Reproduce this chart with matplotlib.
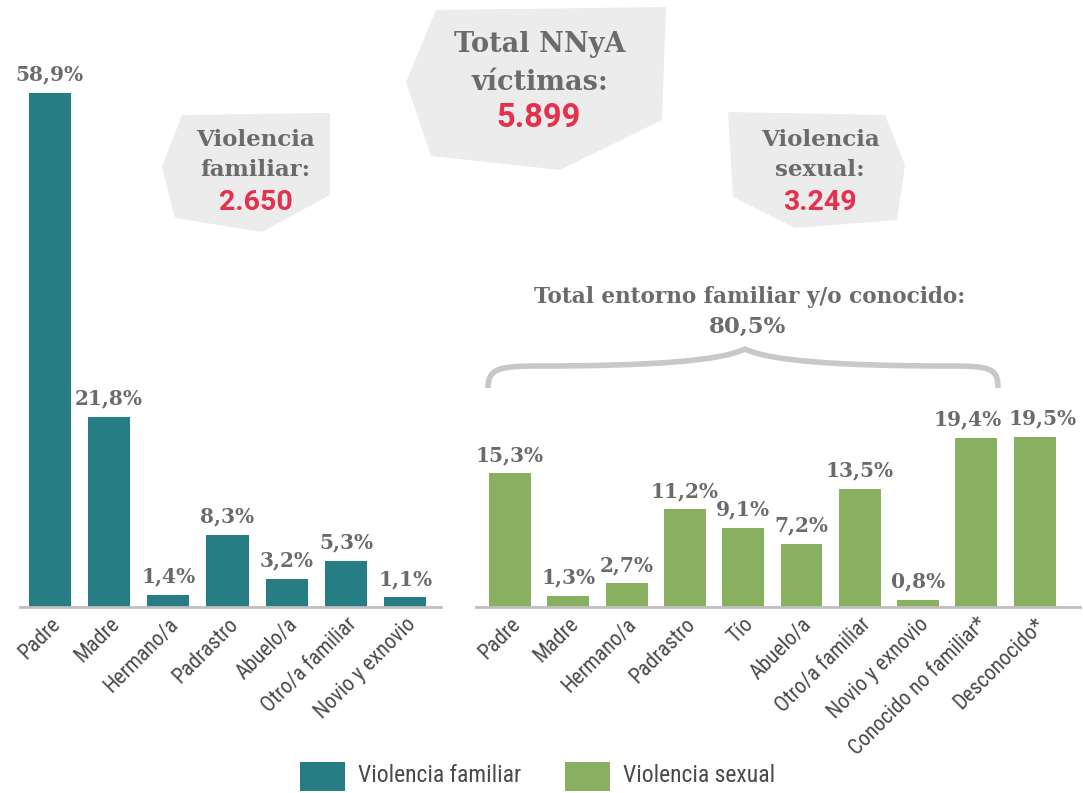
import matplotlib
matplotlib.use("Agg")
import matplotlib.pyplot as plt
from matplotlib import font_manager
from matplotlib.patches import Polygon, PathPatch, Rectangle
from matplotlib.path import Path

# datos
cat_familiar = ['Padre', 'Madre', 'Hermano/a', 'Padrastro', 'Abuelo/a', 'Otro/a familiar', 'Novio y exnovio']
val_familiar = [58.9, 21.8, 1.4, 8.3, 3.2, 5.3, 1.1]
cat_sexual = ['Padre', 'Madre', 'Hermano/a', 'Padrastro', 'Tío', 'Abuelo/a', 'Otro/a familiar',
              'Novio y exnovio', 'Conocido no familiar*', 'Desconocido*']
val_sexual = [15.3, 1.3, 2.7, 11.2, 9.1, 7.2, 13.5, 0.8, 19.4, 19.5]
total_nnya = '5.899'
total_familiar = '2.650'
total_sexual = '3.249'
total_entorno = '80,5%'

W, H = 1083, 793
TEAL = '#267d84'
GREEN = '#89b060'
GRAY_TXT = '#6b6b6b'
RED = '#e6304d'
BOX = '#ececec'
SLAB = ['DejaVu Serif']
SANS = ['Roboto', 'DejaVu Sans']

# buscar una fuente estrecha instalada
fonts = font_manager.fontManager.ttflist
names = {f.name for f in fonts}
NARROW_KW = dict(family=['DejaVu Sans'])
for cand in ['Liberation Sans Narrow', 'Roboto Condensed', 'Open Sans Condensed', 'Noto Sans Condensed']:
    if cand in names:
        NARROW_KW = dict(family=[cand])
        break
else:
    if any(f.name == 'DejaVu Sans' and f.stretch == 'condensed' for f in fonts):
        NARROW_KW = dict(family=['DejaVu Sans'], fontstretch='condensed')
    elif any(f.name == 'Roboto' and f.stretch == 'condensed' for f in fonts):
        NARROW_KW = dict(family=['Roboto'], fontstretch='condensed')
    elif any(f.name == 'Noto Sans' and f.stretch == 'condensed' for f in fonts):
        NARROW_KW = dict(family=['Noto Sans'], fontstretch='condensed')

fig = plt.figure(figsize=(W / 100, H / 100), dpi=100)


def fx(x):
    return x / W


def fy(y):
    return 1 - y / H


def make_axes(x0, x1, xlim, cats, vals, color, width, nudge=None):
    nudge = nudge or {}
    ax = fig.add_axes([fx(x0), fy(607), fx(x1 - x0), (607 - 50) / H])
    ax.bar(range(len(vals)), vals, width=width, color=color, zorder=2)
    ax.set_xlim(*xlim)
    ax.set_ylim(0, 557 / 8.73)
    for s in ['top', 'right', 'left']:
        ax.spines[s].set_visible(False)
    ax.spines['bottom'].set_color('#bfbfbf')
    ax.spines['bottom'].set_linewidth(2)
    ax.set_yticks([])
    ax.set_xticks(range(len(cats)))
    ax.set_xticklabels(cats, rotation=45, ha='right', rotation_mode='anchor',
                       fontsize=15.5, color='#4a4a4a', **NARROW_KW)
    ax.tick_params(axis='x', length=0, pad=5)
    for i, v in enumerate(vals):
        ax.annotate(f"{v:.1f}%".replace('.', ','), (i, v), xytext=(nudge.get(i, 0), 6),
                    textcoords='offset points', ha='center', va='bottom',
                    fontsize=14.5, fontweight='bold', color=GRAY_TXT, family=SLAB)
    return ax


make_axes(20, 441, (-0.5, 6.6), cat_familiar, val_familiar, TEAL, 0.71)
make_axes(476, 1080, (-0.583, 9.777), cat_sexual, val_sexual, GREEN, 0.72,
          nudge={8: -6, 9: 6})

# cuadros grises
boxes = [
    [(436, 10), (666, 7), (662, 120), (560, 170), (431, 156), (406, 82)],
    [(182, 115), (330, 113), (330, 195), (262, 232), (175, 218), (162, 167)],
    [(728, 112), (885, 115), (905, 165), (897, 220), (795, 228), (733, 197)],
]
for pts in boxes:
    fig.patches.append(Polygon([(fx(x), fy(y)) for x, y in pts], closed=True,
                               transform=fig.transFigure, facecolor=BOX,
                               edgecolor='none', zorder=0))


def ftext(x, y, s, **kw):
    fig.text(fx(x), fy(y), s, ha='center', va='center', **kw)


slab_kw = dict(fontweight='bold', color=GRAY_TXT, family=SLAB)
ftext(540, 45, 'Total NNyA', fontsize=19.5, **slab_kw)
ftext(540, 82, 'víctimas:', fontsize=19.5, **slab_kw)
ftext(539, 118, total_nnya, fontsize=23.5, fontweight='bold', color=RED, family=SANS)

ftext(255, 140, 'Violencia', fontsize=16.5, **slab_kw)
ftext(255, 170, 'familiar:', fontsize=16.5, **slab_kw)
ftext(256, 203, total_familiar, fontsize=20.5, fontweight='bold', color=RED, family=SANS)

ftext(820, 140, 'Violencia', fontsize=16.5, **slab_kw)
ftext(820, 170, 'sexual:', fontsize=16.5, **slab_kw)
ftext(820, 203, total_sexual, fontsize=20.5, fontweight='bold', color=RED, family=SANS)

ftext(750, 297, 'Total entorno familiar y/o conocido:', fontsize=15.5, **slab_kw)
ftext(748, 327, total_entorno, fontsize=16.5, **slab_kw)

# llave
verts = [(488, 388), (488, 368), (500, 366), (540, 366),
         (650, 366), (720, 361), (745, 349),
         (770, 361), (840, 366), (950, 366),
         (990, 366), (998, 368), (998, 388)]
codes = [Path.MOVETO] + [Path.CURVE4] * 12
brace = Path([(fx(x), fy(y)) for x, y in verts], codes)
fig.patches.append(PathPatch(brace, transform=fig.transFigure, facecolor='none',
                             edgecolor='#c8c8c8', lw=4, capstyle='butt'))

# leyenda
for x0, col, lab in [(300, TEAL, 'Violencia familiar'), (565, GREEN, 'Violencia sexual')]:
    fig.patches.append(Rectangle((fx(x0), fy(791)), fx(45), 29 / H,
                                 transform=fig.transFigure, facecolor=col, edgecolor='none'))
    fig.text(fx(x0 + 58), fy(776), lab, ha='left', va='center', fontsize=17,
             color='#4a4a4a', **NARROW_KW)

fig.savefig('out.png', dpi=100)
